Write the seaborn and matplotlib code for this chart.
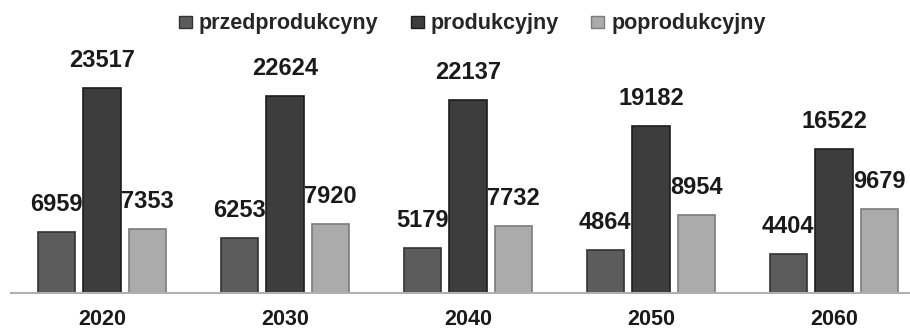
import matplotlib
matplotlib.use("Agg")
import matplotlib.pyplot as plt
import seaborn as sns
import pandas as pd

years = ['2020', '2030', '2040', '2050', '2060']
groups = ['przedprodukcyny', 'produkcyjny', 'poprodukcyjny']
przedprodukcyjny = [6959, 6253, 5179, 4864, 4404]
produkcyjny = [23517, 22624, 22137, 19182, 16522]
poprodukcyjny = [7353, 7920, 7732, 8954, 9679]

colors = ['#5c5c5c', '#3d3d3d', '#ababab']
edges = ['#333333', '#1c1c1c', '#7c7c7c']

df = pd.DataFrame({
    'rok': years * 3,
    'grupa': [g for g in groups for _ in years],
    'liczba': przedprodukcyjny + produkcyjny + poprodukcyjny,
})

sns.set_style("white")
plt.rcParams['font.family'] = ['Liberation Sans', 'DejaVu Sans']

fig = plt.figure(figsize=(9.1, 3.32), dpi=100)
ax = fig.add_axes([10.5 / 910, 39.3 / 332, 915 / 910, 252 / 332])

sns.barplot(data=df, x='rok', y='liczba', hue='grupa', hue_order=groups,
            palette=colors, width=0.75, gap=0.19, ax=ax, legend=True)

for cont, ec in zip(ax.containers, edges):
    for bar in cont:
        bar.set_edgecolor(ec)
        bar.set_linewidth(1.2)
    ax.bar_label(cont, fmt='%d', padding=11.5, fontsize=17, fontweight='bold',
                 color='#1a1a1a')

ax.set_ylim(0, 29000)
ax.set_xlim(-0.5, 4.5)
ax.set_xlabel('')
ax.set_ylabel('')
ax.set_yticks([])
ax.tick_params(axis='x', length=0, pad=11.5, labelsize=15.5, labelcolor='#1a1a1a')
for lab in ax.get_xticklabels():
    lab.set_fontweight('bold')
for s in ['top', 'left', 'right']:
    ax.spines[s].set_visible(False)
ax.spines['bottom'].set_color('#b0b0b0')
ax.spines['bottom'].set_linewidth(1.5)

handles, labels = ax.get_legend_handles_labels()
ax.get_legend().remove()
leg = fig.legend(handles, labels, loc='center', bbox_to_anchor=(472.5 / 910, 1 - 24 / 332),
                 ncol=3, frameon=False, prop={'size': 15.5, 'weight': 'bold'},
                 handlelength=0.6, handleheight=0.5, handletextpad=0.33,
                 columnspacing=1.5)
for h, ec in zip(leg.legend_handles, edges):
    h.set_edgecolor(ec)
    h.set_linewidth(1.0)

fig.savefig('out.png', dpi=100)
